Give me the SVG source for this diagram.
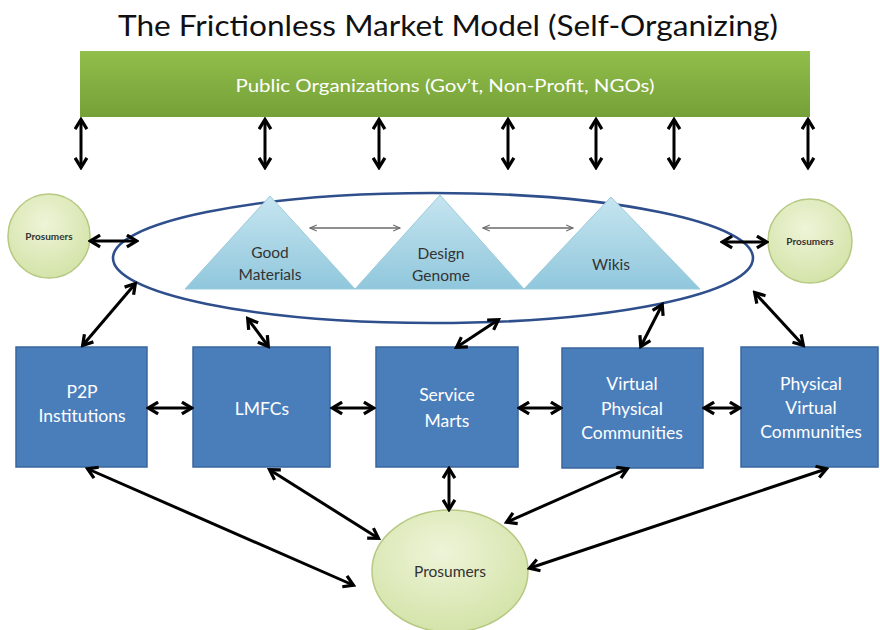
<svg xmlns="http://www.w3.org/2000/svg" width="880" height="630" viewBox="0 0 880 630">
  <defs>
    <linearGradient id="gBar" x1="0" y1="0" x2="0" y2="1">
      <stop offset="0" stop-color="#92be4b"/>
      <stop offset="1" stop-color="#74a038"/>
    </linearGradient>
    <linearGradient id="gTri" x1="0" y1="0" x2="0" y2="1">
      <stop offset="0" stop-color="#c6e5f0"/>
      <stop offset="1" stop-color="#90c7dc"/>
    </linearGradient>
    <radialGradient id="gCirc" cx="0.45" cy="0.35" r="0.75">
      <stop offset="0" stop-color="#eef4d8"/>
      <stop offset="1" stop-color="#d0e1a2"/>
    </radialGradient>
    <marker id="ah" viewBox="0 0 14 14" refX="11" refY="7" markerWidth="15" markerHeight="15" markerUnits="userSpaceOnUse" orient="auto-start-reverse">
      <path d="M2.5,1.5 L11.5,7 L2.5,12.5" fill="none" stroke="#000" stroke-width="3"/>
    </marker>
    <marker id="ahThin" viewBox="0 0 12 12" refX="10" refY="6" markerWidth="9" markerHeight="9" markerUnits="userSpaceOnUse" orient="auto-start-reverse">
      <path d="M1,2 L10,6 L1,10" fill="none" stroke="#6a6a6a" stroke-width="1.4"/>
    </marker>
  </defs>
  <style>
    text { font-family: Lato, "Open Sans", "Liberation Sans", sans-serif; text-anchor: middle; }
    .title { font-size: 29px; fill: #111; }
    .barText { font-size: 17px; fill: #fff; }
    .box rect { fill: #4a7ebb; stroke: #3a679e; stroke-width: 1.5; }
    .box text { font-size: 17.5px; fill: #fff; }
    .tri polygon { fill: url(#gTri); stroke: #9ccadb; stroke-width: 1; }
    .tri text { font-size: 15.5px; fill: #333; }
    .pros ellipse { fill: url(#gCirc); stroke: #b6c982; stroke-width: 1.5; }
    .pros text { fill: #333; }
    .conn line { stroke: #000; stroke-width: 3; marker-start: url(#ah); marker-end: url(#ah); }
    .conn line.thin { stroke: #6a6a6a; stroke-width: 1.3; marker-start: url(#ahThin); marker-end: url(#ahThin); }
  </style>

  <rect width="880" height="630" fill="#fff"/>

  <text class="title" x="448" y="36" textLength="660" lengthAdjust="spacingAndGlyphs">The Frictionless Market Model (Self-Organizing)</text>

  <g id="public-organizations">
    <rect x="80" y="51" width="730" height="66" fill="url(#gBar)"/>
    <text class="barText" x="445" y="92" textLength="419" lengthAdjust="spacingAndGlyphs">Public Organizations (Gov’t, Non-Profit, NGOs)</text>
  </g>

  <g id="commons-ellipse">
    <ellipse cx="433" cy="258" rx="320" ry="65" fill="none" stroke="#2e4f8c" stroke-width="2.6"/>
  </g>

  <g id="good-materials" class="tri">
    <polygon points="185,289 270,196 355,289"/>
    <text x="270" y="258">Good</text>
    <text x="270" y="280">Materials</text>
  </g>
  <g id="design-genome" class="tri">
    <polygon points="355,289 440,195 524,289"/>
    <text x="441" y="259">Design</text>
    <text x="441" y="281">Genome</text>
  </g>
  <g id="wikis" class="tri">
    <polygon points="524,289 611,197 700,289"/>
    <text x="611" y="270">Wikis</text>
  </g>

  <g id="prosumers-left" class="pros">
    <ellipse cx="49" cy="236" rx="41" ry="42"/>
    <text x="49" y="240" font-size="10" font-weight="bold">Prosumers</text>
  </g>
  <g id="prosumers-right" class="pros">
    <ellipse cx="810" cy="241" rx="42" ry="42"/>
    <text x="810" y="245" font-size="10" font-weight="bold">Prosumers</text>
  </g>
  <g id="prosumers-bottom" class="pros">
    <ellipse cx="450" cy="571" rx="78" ry="61"/>
    <text x="450" y="577" font-size="15.5">Prosumers</text>
  </g>

  <g id="p2p-institutions" class="box">
    <rect x="16" y="347" width="131" height="120"/>
    <text x="82" y="398">P2P</text>
    <text x="82" y="422">Institutions</text>
  </g>
  <g id="lmfcs" class="box">
    <rect x="193" y="347" width="137" height="120"/>
    <text x="262" y="415">LMFCs</text>
  </g>
  <g id="service-marts" class="box">
    <rect x="376" y="347" width="142" height="120"/>
    <text x="447" y="401">Service</text>
    <text x="447" y="427">Marts</text>
  </g>
  <g id="virtual-physical-communities" class="box">
    <rect x="562" y="348" width="141" height="120"/>
    <text x="632" y="390">Virtual</text>
    <text x="632" y="415">Physical</text>
    <text x="632" y="439">Communities</text>
  </g>
  <g id="physical-virtual-communities" class="box">
    <rect x="741" y="347" width="137" height="120"/>
    <text x="811" y="390">Physical</text>
    <text x="811" y="414">Virtual</text>
    <text x="811" y="438">Communities</text>
  </g>

  <g id="connectors" class="conn">
    <!-- public organizations to the commons layer -->
    <line x1="81" y1="120" x2="81" y2="167"/>
    <line x1="265" y1="120" x2="265" y2="167"/>
    <line x1="379" y1="120" x2="379" y2="167"/>
    <line x1="508" y1="120" x2="508" y2="167"/>
    <line x1="596" y1="120" x2="596" y2="167"/>
    <line x1="674" y1="120" x2="674" y2="167"/>
    <line x1="808" y1="120" x2="808" y2="167"/>
    <!-- between the commons -->
    <line class="thin" x1="310" y1="228" x2="400" y2="228"/>
    <line class="thin" x1="483" y1="228" x2="573" y2="228"/>
    <!-- side prosumers -->
    <line x1="91" y1="241" x2="136" y2="241"/>
    <line x1="723" y1="242" x2="766" y2="242"/>
    <!-- commons to the institutions row -->
    <line x1="135" y1="284" x2="83" y2="345"/>
    <line x1="248" y1="319" x2="268" y2="346"/>
    <line x1="498" y1="320" x2="457" y2="347"/>
    <line x1="662" y1="305" x2="641" y2="346"/>
    <line x1="755" y1="293" x2="803" y2="345"/>
    <!-- along the institutions row -->
    <line x1="149" y1="408" x2="191" y2="408"/>
    <line x1="333" y1="408" x2="373" y2="408"/>
    <line x1="520" y1="408" x2="560" y2="408"/>
    <line x1="705" y1="408" x2="739" y2="408"/>
    <!-- institutions row to prosumers -->
    <line x1="88" y1="469" x2="353" y2="585"/>
    <line x1="270" y1="470" x2="378" y2="538"/>
    <line x1="449" y1="469" x2="449" y2="509"/>
    <line x1="627" y1="469" x2="507" y2="522"/>
    <line x1="826" y1="469" x2="530" y2="568"/>
  </g>
</svg>
